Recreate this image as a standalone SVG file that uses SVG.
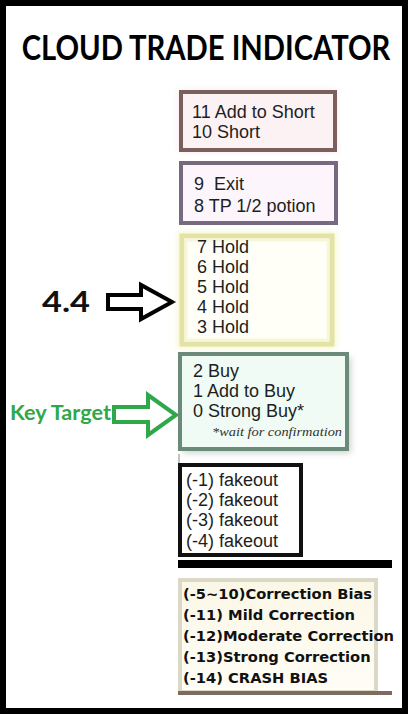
<svg xmlns="http://www.w3.org/2000/svg" width="411" height="717" viewBox="0 0 411 717">
<defs>
<filter id="glow" x="-20%" y="-20%" width="140%" height="140%"><feGaussianBlur stdDeviation="3"/></filter>
<linearGradient id="cream" x1="0" y1="0" x2="0" y2="1"><stop offset="0" stop-color="#fbf7e6"/><stop offset="1" stop-color="#fffdf6"/></linearGradient>
</defs>
<style>
.t{font-family:"Liberation Sans",Arial,sans-serif;font-size:18px;fill:#1e1e1e}
.b{font-family:"DejaVu Sans",Verdana,sans-serif;font-size:14.7px;font-weight:bold;fill:#111}
.cal{font-family:Lato,"Open Sans",sans-serif;font-weight:bold}
.note{font-family:"Liberation Serif","Times New Roman",serif;font-style:italic;font-size:13px;fill:#333}
</style>
<rect x="0" y="0" width="411" height="717" fill="#fff"/>
<rect x="3" y="3" width="402" height="708" fill="none" stroke="#000" stroke-width="6"/>
<g id="title"><text class="cal" transform="translate(206,60) scale(1,1.19)" font-size="29.2" font-weight="900" text-anchor="middle" fill="#000">CLOUD TRADE INDICATOR</text></g>

<g id="connectors">
<path d="M108,295 H141 V285 L172,302 L141,319 V309 H108 Z" fill="#fff" stroke="#000" stroke-width="4" stroke-linejoin="miter"/>
<path d="M114,407 H148 V395 L176,415 L148,435 V422 H114 Z" fill="#fff" stroke="#2fa84a" stroke-width="4" stroke-linejoin="miter"/>
</g>

<g id="label-44"><text class="cal" x="42" y="312" font-size="28" font-weight="900" textLength="48" lengthAdjust="spacingAndGlyphs" fill="#111">4.4</text></g>
<g id="label-key"><text class="cal" x="10" y="420" font-size="20" font-weight="900" textLength="101" lengthAdjust="spacingAndGlyphs" fill="#2fa84a">Key Target</text></g>

<g id="box-short">
<rect x="178" y="90" width="159" height="62" fill="#f8dde4" filter="url(#glow)" opacity="0.6"/>
<rect x="181" y="92" width="154" height="58" fill="#fcf1f3" stroke="#7b5f5c" stroke-width="4"/>
<text class="t" x="192" y="118">11 Add to Short</text>
<text class="t" x="192" y="138">10 Short</text>
</g>

<g id="box-exit">
<rect x="181" y="163" width="155" height="60" fill="#fcf6fc" stroke="#776a80" stroke-width="4"/>
<text class="t" x="194" y="190" xml:space="preserve">9  Exit</text>
<text class="t" x="194" y="212">8  TP 1/2 potion</text>
</g>

<g id="box-hold">
<rect x="178" y="232" width="158" height="116" fill="#f3f3c0" filter="url(#glow)" opacity="0.8"/>
<rect x="182" y="236" width="150" height="108" fill="#fffff8" stroke="#e3e3a6" stroke-width="5"/>
<rect x="186" y="240" width="142" height="100" fill="none" stroke="#f6f6da" stroke-width="3"/>
<text class="t" x="197" y="253">7  Hold</text>
<text class="t" x="197" y="273">6  Hold</text>
<text class="t" x="197" y="293">5  Hold</text>
<text class="t" x="197" y="313">4  Hold</text>
<text class="t" x="197" y="333">3  Hold</text>
</g>

<g id="box-buy">
<rect x="183" y="357" width="168" height="96" fill="#9aa59f" filter="url(#glow)" opacity="0.5"/>
<rect x="180" y="354" width="167" height="95" fill="#effbf4" stroke="#6c8a79" stroke-width="4"/>
<text class="t" x="193" y="377">2  Buy</text>
<text class="t" x="193" y="397">1  Add to Buy</text>
<text class="t" x="193" y="417">0  Strong Buy*</text>
<text class="note" x="212" y="436" textLength="130" lengthAdjust="spacingAndGlyphs">*wait for confirmation</text>
</g>

<line x1="179" y1="454" x2="179" y2="464" stroke="#888" stroke-width="1"/>

<g id="box-fakeout">
<rect x="180" y="465" width="121" height="90" fill="#fff" stroke="#111" stroke-width="4"/>
<text class="t" x="186" y="486">(-1) fakeout</text>
<text class="t" x="186" y="506">(-2) fakeout</text>
<text class="t" x="186" y="526">(-3) fakeout</text>
<text class="t" x="186" y="547">(-4) fakeout</text>
</g>

<rect x="178" y="560" width="214" height="8" fill="#000"/>

<g id="box-correction">
<rect x="180" y="580" width="196" height="112" fill="url(#cream)" stroke="#dcd8c6" stroke-width="4"/>
<rect x="178" y="691" width="214" height="4" fill="#7f6a62"/>
<text class="b" x="183" y="599">(-5~10)Correction Bias</text>
<text class="b" x="183" y="620">(-11) Mild Correction</text>
<text class="b" x="183" y="641">(-12)Moderate Correction</text>
<text class="b" x="183" y="662">(-13)Strong Correction</text>
<text class="b" x="183" y="683">(-14) CRASH BIAS</text>
</g>
</svg>
